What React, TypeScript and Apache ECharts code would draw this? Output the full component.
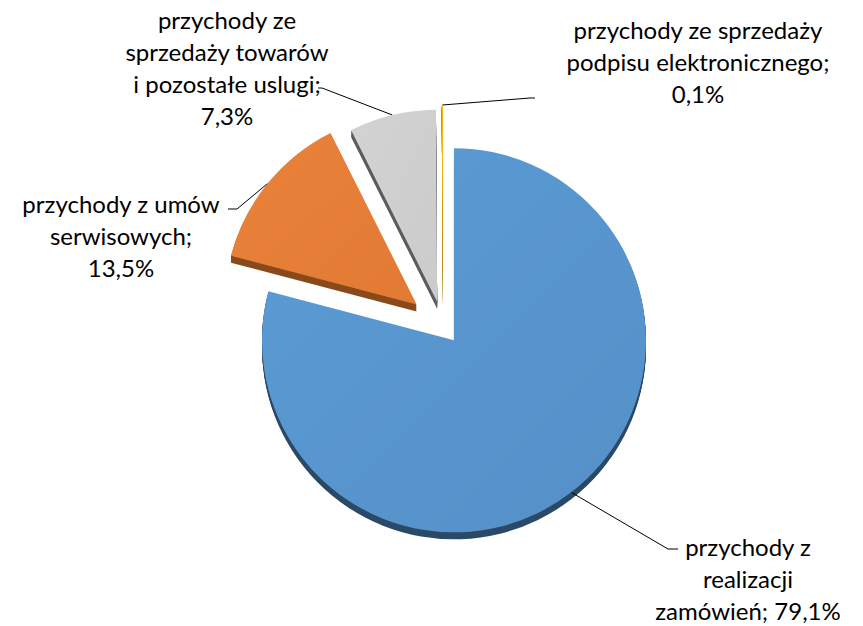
import React, { useEffect, useRef } from "react";
import * as echarts from "echarts";

// ---- data ----
const categories = [
  "przychody z\nrealizacji\nzamówień",
  "przychody z umów\nserwisowych",
  "przychody ze\nsprzedaży towarów\ni pozostałe uslugi",
  "przychody ze sprzedaży\npodpisu elektronicznego",
];
const values = [79.1, 13.5, 7.3, 0.1];

// ---- layout / style ----
const valueSep = [" ", "\n", "\n", "\n"];
const faceColors = ["#5b9bd5", "#e9823b", "#d3d3d3", "#ffc000"];
const faceColorsDark = ["#5590c8", "#e27a33", "#cbcbcb", "#f5b800"];
const sideColors = ["#2b4a68", "#8a4a1c", "#5c5c5c", "#9c7600"];
const explode = [18, 34, 25, 29];
const labelPos = [
  [748, 578],
  [121, 235],
  [227, 67],
  [698, 61],
];
const leaderBend = [
  [668, 549],
  [237, 209],
  [322, 88],
  [530, 98],
];
const leaderEnd = [
  [678, 549],
  [228, 209],
  [318, 88],
  [535, 98],
];
const CX = 443;
const CY = 326;
const R = 192;
const DEPTH = 7;

export default function App() {
  const ref = useRef<HTMLDivElement>(null);
  useEffect(() => {
    document.body.style.margin = "0";
    const chart = echarts.init(ref.current!, undefined, { renderer: "svg" });
    const total = values.reduce((a, b) => a + b, 0);
    let cum = 0;
    const geo = values.map((v, i) => {
      const start = (cum / total) * 360;
      cum += v;
      const end = (cum / total) * 360;
      const mid = ((start + end) / 2) * (Math.PI / 180);
      const cx = CX + explode[i] * Math.sin(mid);
      const cy = CY - explode[i] * Math.cos(mid);
      const edge = [cx + R * Math.sin(mid), cy - R * Math.cos(mid)];
      return { cx, cy, edge };
    });

    const makeData = (target: number, color: any) =>
      categories.map((name, j) => ({
        name,
        value: values[j],
        itemStyle:
          j === target
            ? { color, borderWidth: 0 }
            : { color: "rgba(0,0,0,0)", borderWidth: 0 },
        label: { show: j === target },
        labelLine: { show: j === target },
      }));

    const series: any[] = [];
    // 3D sides
    values.forEach((_, i) => {
      for (let d = DEPTH; d >= 1; d--) {
        series.push({
          type: "pie",
          silent: true,
          z: 1,
          startAngle: 90,
          clockwise: true,
          minAngle: 0,
          center: [geo[i].cx, geo[i].cy + d],
          radius: R,
          label: { show: false },
          labelLine: { show: false },
          emphasis: { disabled: true },
          data: makeData(i, sideColors[i]).map((o) => ({
            ...o,
            label: { show: false },
            labelLine: { show: false },
          })),
        });
      }
    });
    // faces
    values.forEach((_, i) => {
      const grad = new echarts.graphic.LinearGradient(0, 0, 1, 1, [
        { offset: 0, color: faceColors[i] },
        { offset: 1, color: faceColorsDark[i] },
      ]);
      series.push({
        type: "pie",
        silent: true,
        z: 2,
        startAngle: 90,
        clockwise: true,
        minAngle: 0,
        avoidLabelOverlap: false,
        center: [geo[i].cx, geo[i].cy],
        radius: R,
        emphasis: { disabled: true },
        label: {
          position: "outside",
          fontFamily: "Lato",
          fontSize: 24,
          lineHeight: 32,
          color: "#000",
          align: "center",
          formatter: (p: any) =>
            `${p.name};${valueSep[p.dataIndex]}${values[p.dataIndex]
              .toFixed(1)
              .replace(".", ",")}%`,
        },
        labelLine: {
          show: true,
          lineStyle: { color: "#000", width: 1 },
        },
        labelLayout: (p: any) => {
          if (p.dataIndex !== i) return {};
          return {
            x: labelPos[i][0],
            y: labelPos[i][1],
            align: "center",
            verticalAlign: "middle",
            labelLinePoints: [geo[i].edge, leaderBend[i], leaderEnd[i]],
          };
        },
        data: makeData(i, grad),
      });
    });

    chart.setOption({
      animation: false,
      backgroundColor: "#fff",
      series,
    });
    return () => chart.dispose();
  }, []);
  return <div ref={ref} style={{ width: 863, height: 626 }} />;
}
